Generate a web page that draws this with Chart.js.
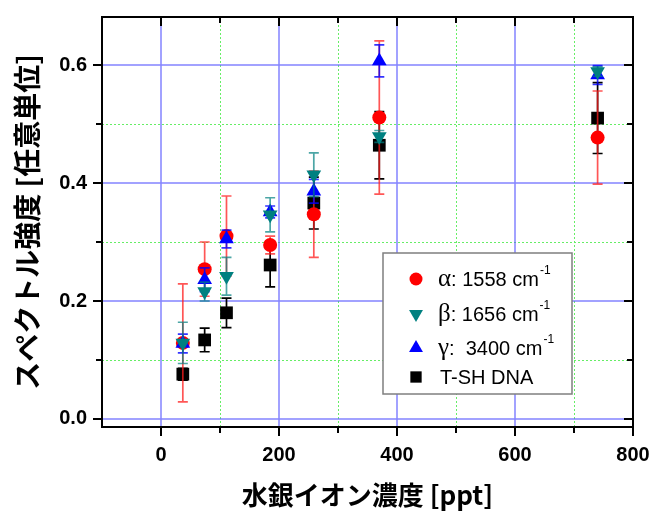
<!DOCTYPE html>
<html>
<head>
<meta charset="utf-8">
<script src="https://cdn.jsdelivr.net/npm/chart.js@4.4.0/dist/chart.umd.min.js"></script>
<style>
    html, body { margin: 0; padding: 0; background: #fff; }
    #wrap { width: 651px; height: 511px; }
</style>
</head>
<body>
<div id="wrap"><canvas id="myChart"></canvas></div>
<script>
// 水銀イオン濃度 [ppt]
const concentrations = [37, 74, 111, 185, 259, 370, 740];

const alphaValues = [0.129, 0.254, 0.310, 0.295, 0.347, 0.511, 0.477];
const alphaErrors = [0.100, 0.046, 0.068, 0.015, 0.073, 0.130, 0.079];
const betaValues = [0.129, 0.216, 0.242, 0.346, 0.414, 0.479, 0.589];
const betaErrors = [0.035, 0.016, 0.032, 0.029, 0.037, 0.010, 0.008];
const gammaValues = [0.128, 0.236, 0.305, 0.351, 0.386, 0.607, 0.583];
const gammaErrors = [0.016, 0.020, 0.015, 0.010, 0.020, 0.027, 0.016];
const dnaValues = [0.076, 0.134, 0.180, 0.261, 0.366, 0.464, 0.510];
const dnaErrors = [0.010, 0.020, 0.025, 0.037, 0.044, 0.057, 0.060];

const xMajorTicks = [0, 200, 400, 600, 800];
const xMinorTicks = [100, 300, 500, 700];
const yMajorTicks = [0.0, 0.2, 0.4, 0.6];
const yMinorTicks = [0.1, 0.3, 0.5];

const legendGreek = ["α", "β", "γ", ""];
const legendText = [": 1558 cm", ": 1656 cm", ":  3400 cm", "T-SH DNA"];
const legendSup = ["-1", "-1", "-1", ""];

const xTitle = "水銀イオン濃度 [ppt]";
const yTitle = "スペクトル強度 [任意単位]";

function points(vals) {
    return concentrations.map((x, i) => ({ x: x, y: vals[i] }));
}

function drawMarker(ctx, style, x, y, r, color) {
    ctx.fillStyle = color;
    ctx.beginPath();
    if (style == "circle") {
        ctx.arc(x, y, r, 0, Math.PI * 2);
    } else if (style == "up") {
        ctx.moveTo(x, y - r);
        ctx.lineTo(x + r * 0.866, y + r / 2);
        ctx.lineTo(x - r * 0.866, y + r / 2);
    } else if (style == "down") {
        ctx.moveTo(x, y + r);
        ctx.lineTo(x + r * 0.866, y - r / 2);
        ctx.lineTo(x - r * 0.866, y - r / 2);
    } else {
        ctx.rect(x - r * 0.707, y - r * 0.707, r * 1.414, r * 1.414);
    }
    ctx.closePath();
    ctx.fill();
}

// error bars, drawn just under each dataset's own markers
const errorBars = {
    id: "errorBars",
    beforeDatasetDraw(chart, args) {
        const ds = chart.data.datasets[args.index];
        const xs = chart.scales.x;
        const ys = chart.scales.y;
        const ctx = chart.ctx;
        ctx.save();
        ctx.strokeStyle = ds.errorColor;
        ctx.lineWidth = 1.7;
        ds.data.forEach(function (p, i) {
            const px = xs.getPixelForValue(p.x);
            const top = ys.getPixelForValue(p.y + ds.errors[i]);
            const bot = ys.getPixelForValue(p.y - ds.errors[i]);
            ctx.beginPath();
            ctx.moveTo(px, top);
            ctx.lineTo(px, bot);
            ctx.moveTo(px - 5, top);
            ctx.lineTo(px + 5, top);
            ctx.moveTo(px - 5, bot);
            ctx.lineTo(px + 5, bot);
            ctx.stroke();
        });
        ctx.restore();
    },
};

const gridLines = {
    id: "gridLines",
    beforeDatasetsDraw(chart) {
        const { ctx, chartArea: a } = chart;
        const xs = chart.scales.x;
        const ys = chart.scales.y;
        ctx.save();
        // minor, green dotted
        ctx.fillStyle = "#66ee66";
        xMinorTicks.forEach((v) => {
            const px = Math.round(xs.getPixelForValue(v));
            for (let y = a.top; y < a.bottom; y += 4) ctx.fillRect(px, y, 1, 2);
        });
        yMinorTicks.forEach((v) => {
            const py = Math.round(ys.getPixelForValue(v));
            for (let x = a.left; x < a.right; x += 4) ctx.fillRect(x, py, 2, 1);
        });
        // major, blue
        ctx.strokeStyle = "rgba(90, 90, 255, 0.75)";
        ctx.lineWidth = 1.5;
        ctx.beginPath();
        xMajorTicks.forEach((v) => {
            const px = xs.getPixelForValue(v);
            ctx.moveTo(px, a.top);
            ctx.lineTo(px, a.bottom);
        });
        yMajorTicks.forEach((v) => {
            const py = ys.getPixelForValue(v);
            ctx.moveTo(a.left, py);
            ctx.lineTo(a.right, py);
        });
        ctx.stroke();
        ctx.restore();
    },
};

const frame = {
    id: "frame",
    afterDatasetsDraw(chart) {
        const { ctx, chartArea: a } = chart;
        const xs = chart.scales.x;
        const ys = chart.scales.y;
        ctx.save();
        ctx.strokeStyle = "#000";
        ctx.lineWidth = 2;
        ctx.strokeRect(a.left, a.top, a.right - a.left, a.bottom - a.top);
        ctx.beginPath();
        xMajorTicks.concat(xMinorTicks).forEach((v) => {
            const px = xs.getPixelForValue(v);
            const len = xMajorTicks.includes(v) ? 9 : 6;
            ctx.moveTo(px, a.bottom);
            ctx.lineTo(px, a.bottom + len);
            ctx.moveTo(px, a.top);
            ctx.lineTo(px, a.top + len);
        });
        yMajorTicks.concat(yMinorTicks).forEach((v) => {
            const py = ys.getPixelForValue(v);
            const len = yMajorTicks.includes(v) ? 9 : 6;
            ctx.moveTo(a.left, py);
            ctx.lineTo(a.left - len, py);
            ctx.moveTo(a.right, py);
            ctx.lineTo(a.right - len, py);
        });
        ctx.stroke();
        ctx.restore();
    },
};

const legendBox = {
    id: "legendBox",
    afterDraw(chart) {
        const ctx = chart.ctx;
        const ds = chart.data.datasets;
        const rows = [281, 316, 350, 379];
        ctx.save();
        ctx.fillStyle = "#fff";
        ctx.fillRect(383, 253, 189, 141);
        ctx.strokeStyle = "#7f7f7f";
        ctx.lineWidth = 1.5;
        ctx.strokeRect(383, 253, 189, 141);
        ctx.textBaseline = "alphabetic";
        for (var i = 0; i < ds.length; i++) {
            const y = rows[i];
            drawMarker(ctx, ds[i].marker, 416, y - 2, ds[i].legendRadius, ds[i].backgroundColor);
            ctx.fillStyle = "#000";
            let x = 438;
            if (legendGreek[i]) {
                ctx.font = "25px 'Liberation Serif'";
                ctx.fillText(legendGreek[i], x, y + 5);
                x += ctx.measureText(legendGreek[i]).width;
            } else {
                x += 2;
            }
            ctx.font = "20px 'Liberation Sans'";
            ctx.fillText(legendText[i], x, y + 5);
            x += ctx.measureText(legendText[i]).width + 1;
            if (legendSup[i]) {
                ctx.font = "12px 'Liberation Sans'";
                ctx.fillText(legendSup[i], x, y - 7);
            }
        }
        ctx.restore();
    },
};

function noPadding(s) {
    s.paddingTop = 0;
    s.paddingBottom = 0;
    s.paddingLeft = 0;
    s.paddingRight = 0;
}

const tickFont = { family: "'Liberation Sans', Arial, sans-serif", size: 20, weight: "bold" };
const titleFont = { family: "'Noto Sans CJK JP', sans-serif", size: 26, weight: "bold" };

new Chart(document.getElementById("myChart"), {
    type: "scatter",
    data: {
        datasets: [
            {
                label: "α",
                data: points(alphaValues),
                errors: alphaErrors,
                errorColor: "rgba(255, 30, 30, 0.75)",
                marker: "circle",
                legendRadius: 6.5,
                pointStyle: "circle",
                pointRadius: 7,
                backgroundColor: "#ff0000",
                borderColor: "#ff0000",
                borderWidth: 0,
                order: 2,
            },
            {
                label: "β",
                data: points(betaValues),
                errors: betaErrors,
                errorColor: "rgba(0, 128, 128, 0.7)",
                marker: "down",
                legendRadius: 8,
                pointStyle: "triangle",
                rotation: 180,
                pointRadius: 8.5,
                backgroundColor: "#008080",
                borderColor: "#008080",
                borderWidth: 0,
                order: 0,
            },
            {
                label: "γ",
                data: points(gammaValues),
                errors: gammaErrors,
                errorColor: "rgba(0, 0, 255, 0.8)",
                marker: "up",
                legendRadius: 8,
                pointStyle: "triangle",
                pointRadius: 8.5,
                backgroundColor: "#0000ff",
                borderColor: "#0000ff",
                borderWidth: 0,
                order: 1,
            },
            {
                label: "T-SH DNA",
                data: points(dnaValues),
                errors: dnaErrors,
                errorColor: "#000",
                marker: "square",
                legendRadius: 8,
                pointStyle: "rect",
                pointRadius: 9,
                backgroundColor: "#000000",
                borderColor: "#000000",
                borderWidth: 0,
                order: 3,
            },
        ],
    },
    options: {
        responsive: true,
        maintainAspectRatio: false,
        animation: false,
        events: [],
        layout: { padding: { top: 17, right: 18, left: 0, bottom: 0 } },
        plugins: {
            legend: { display: false },
            tooltip: { enabled: false },
        },
        scales: {
            x: {
                type: "linear",
                min: -100,
                max: 800,
                afterBuildTicks: (s) => { s.ticks = xMajorTicks.map((v) => ({ value: v })); },
                afterFit: (s) => { s.height = 84; noPadding(s); },
                grid: { display: false, drawTicks: false },
                border: { display: false },
                ticks: { font: tickFont, color: "#000", padding: 16, maxRotation: 0 },
                title: { display: true, text: xTitle, font: titleFont, color: "#000", padding: { top: 0, bottom: 0 } },
            },
            y: {
                type: "linear",
                min: -0.0136,
                max: 0.6814,
                afterBuildTicks: (s) => { s.ticks = yMajorTicks.map((v) => ({ value: v })); },
                afterFit: (s) => { s.width = 102; noPadding(s); },
                grid: { display: false, drawTicks: false },
                border: { display: false },
                ticks: {
                    font: tickFont,
                    color: "#000",
                    padding: 15,
                    callback: (v) => Number(v).toFixed(1),
                },
                title: {
                    display: true,
                    text: yTitle,
                    font: { family: titleFont.family, size: 28, weight: "bold" },
                    color: "#000",
                    padding: { top: 11, bottom: 0 },
                },
            },
        },
    },
    plugins: [gridLines, errorBars, frame, legendBox],
});
</script>
</body>
</html>
